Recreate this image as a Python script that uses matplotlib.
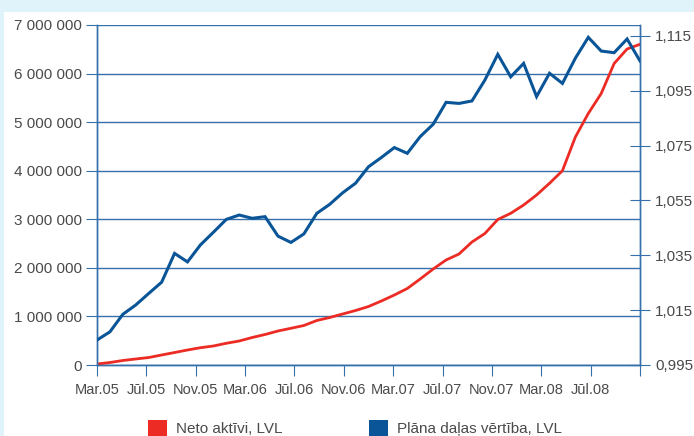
import numpy as np
import matplotlib
matplotlib.use("Agg")
import matplotlib.pyplot as plt
from matplotlib.patches import Patch, Rectangle
from matplotlib.ticker import FuncFormatter

# Neto aktivi, LVL (left axis)
net_assets = [20000, 51000, 93000, 124000, 154000, 206000, 257000, 309000, 356000, 391000,
              447000, 494000, 566000, 628000, 700000, 756000, 813000, 916000, 978000, 1050000,
              1122000, 1204000, 1318000, 1441000, 1575000, 1771000, 1976000, 2162000, 2285000, 2532000,
              2707000, 2996000, 3123000, 3294000, 3500000, 3741000, 4000000, 4694000, 5178000, 5590000,
              6207000, 6506000, 6603000]
# Plana dalas vertiba, LVL (right axis)
unit_value = [1.0041, 1.0071, 1.0135, 1.0169, 1.0211, 1.0252, 1.0357, 1.0326, 1.0388, 1.0434,
              1.0481, 1.0497, 1.0485, 1.0491, 1.0420, 1.0397, 1.0428, 1.0503, 1.0536, 1.0578,
              1.0613, 1.0673, 1.0707, 1.0743, 1.0722, 1.0783, 1.0828, 1.0908, 1.0904, 1.0913,
              1.0989, 1.1083, 1.1001, 1.1050, 1.0929, 1.1014, 1.0977, 1.1069, 1.1145, 1.1095,
              1.1089, 1.1139, 1.1059]
month_labels = ["Mar.05", "Jūl.05", "Nov.05", "Mar.06", "Jūl.06", "Nov.06",
                "Mar.07", "Jūl.07", "Nov.07", "Mar.08", "Jūl.08", ""]
left_ticks = [0, 1000000, 2000000, 3000000, 4000000, 5000000, 6000000, 7000000]
right_ticks = [0.995, 1.015, 1.035, 1.055, 1.075, 1.095, 1.115]

RED = "#ec2b24"
BLUE = "#0a5597"
GRID = "#3570aa"
TXT = "#4a4a4a"

plt.rcParams['font.family'] = ['Liberation Sans', 'DejaVu Sans']

fig = plt.figure(figsize=(6.94, 4.36), dpi=100)
fig.patch.set_facecolor("#e0f2fa")
fig.patches.append(Rectangle((4 / 694, 0), 1, 1 - 12 / 436, transform=fig.transFigure,
                             facecolor="white", edgecolor="none", zorder=-5))

ax = fig.add_axes([97 / 694, 1 - 365 / 436, 543 / 694, 340 / 436])
ax2 = ax.twinx()
ax.patch.set_visible(False)
ax2.patch.set_visible(False)
x = np.arange(len(net_assets))

ax.plot(x, net_assets, color=RED, lw=2.0, zorder=3, solid_joinstyle="miter")
ax2.plot(x, unit_value, color=BLUE, lw=2.2, zorder=3, solid_joinstyle="miter")

ax.set_xlim(0, len(net_assets) - 1)
ax.set_ylim(0, 7000000)
ax2.set_ylim(0.995, 1.119)

ax.set_yticks(left_ticks)
ax.yaxis.set_major_formatter(FuncFormatter(lambda v, p: f"{int(v):,}".replace(",", " ")))
ax.set_xticks(np.linspace(0, len(net_assets) - 1, 12))
ax.set_xticklabels(month_labels)
ax2.set_yticks(right_ticks)
ax2.yaxis.set_major_formatter(FuncFormatter(lambda v, p: f"{v:.3f}".replace(".", ",")))

ax.grid(axis="y", color=GRID, lw=1.0)
ax.set_axisbelow(True)
for a in (ax, ax2):
    for s in a.spines.values():
        s.set_color(GRID)
        s.set_linewidth(1.0)
    a.spines["top"].set_visible(False)
ax.tick_params(axis="y", direction="out", length=8, color=GRID, labelcolor=TXT, labelsize=11, pad=3)
ax.tick_params(axis="x", direction="out", length=8, color=GRID, labelcolor=TXT, labelsize=10.5, pad=5)
ax2.tick_params(axis="y", direction="inout", length=14, color=GRID, labelcolor=TXT, labelsize=11, pad=4)

handles = [Patch(facecolor=RED, edgecolor="none", label="Neto aktīvi, LVL"),
           Patch(facecolor=BLUE, edgecolor="none", label="Plāna daļas vērtība, LVL")]
fig.legend(handles=handles, loc="center", bbox_to_anchor=(0.5 + 8 / 694, 1 - 428 / 436), ncol=2,
           frameon=False, fontsize=11, handlelength=1.2, handleheight=1.2,
           handletextpad=0.6, columnspacing=5.7, labelcolor=TXT)

fig.savefig("out.png", dpi=100, facecolor=fig.get_facecolor())
